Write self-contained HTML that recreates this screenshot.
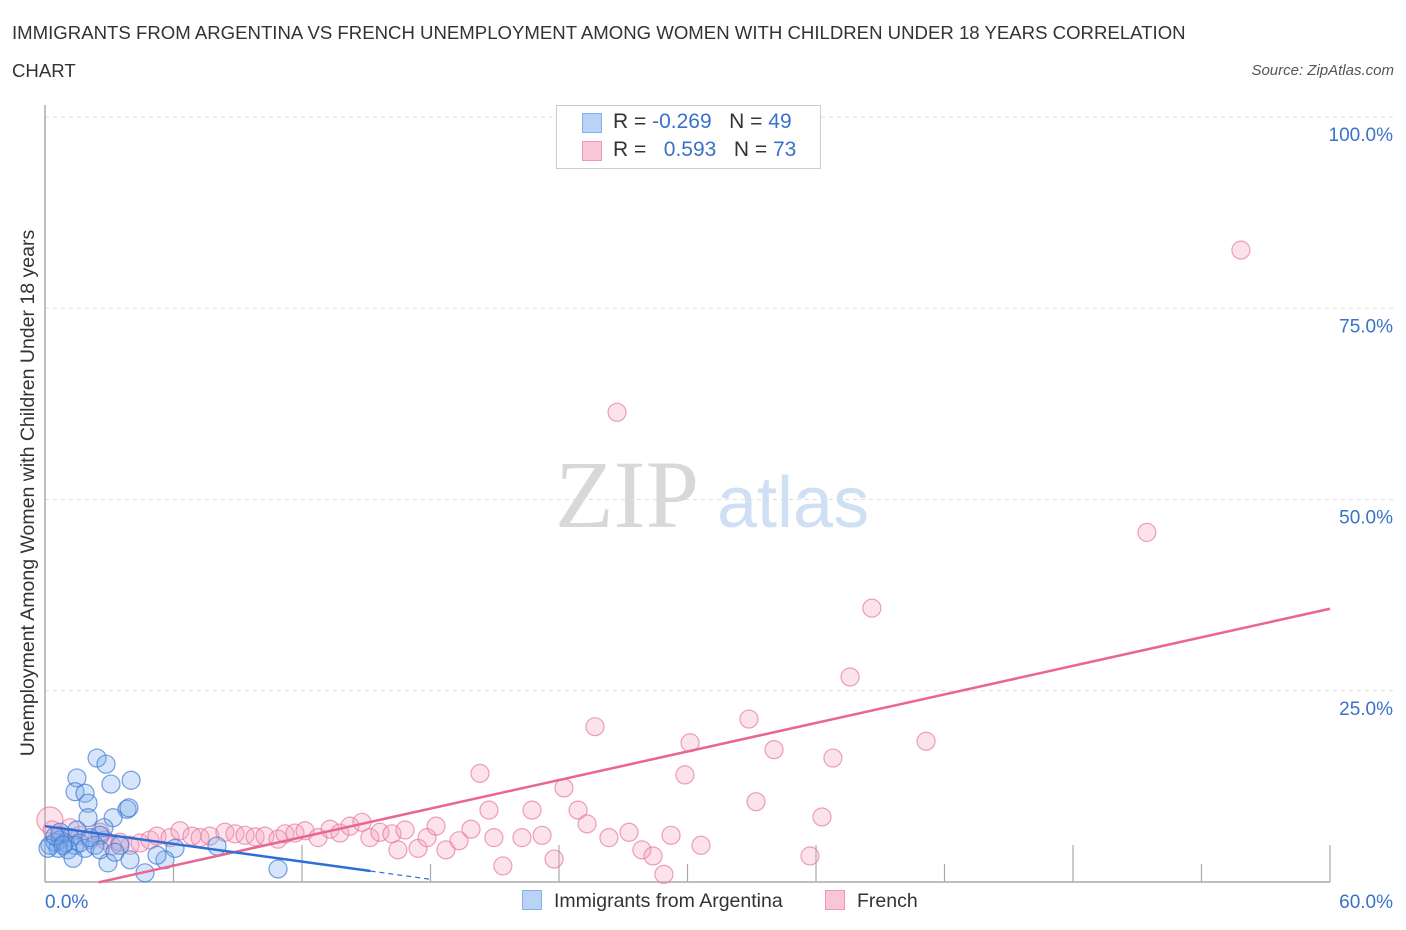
<!DOCTYPE html>
<html><head><meta charset="utf-8">
<style>
html,body{margin:0;padding:0;background:#fff;}
body{width:1406px;height:930px;position:relative;font-family:"Liberation Sans",sans-serif;overflow:hidden;}
.t{position:absolute;white-space:nowrap;}
</style></head>
<body>
<div class="t" style="left:12px;top:14px;font-size:18.6px;color:#333;line-height:38px;">IMMIGRANTS FROM ARGENTINA VS FRENCH UNEMPLOYMENT AMONG WOMEN WITH CHILDREN UNDER 18 YEARS CORRELATION<br>CHART</div>
<div class="t" style="right:12px;top:62px;font-size:15px;color:#555;font-style:italic;">Source: ZipAtlas.com</div>
<svg id="chart" width="1406" height="930" style="position:absolute;left:0;top:0">
<text x="555" y="527" font-family="Liberation Serif,serif" font-size="96" fill="#d8d8d8">ZIP</text>
<text x="717" y="527" font-family="Liberation Sans,sans-serif" font-size="72" fill="#cfe0f4">atlas</text>
<g id="grid"></g><g id="pts"></g><g id="lines"></g>
<text x="34" y="493" transform="rotate(-90 34 493)" text-anchor="middle" font-size="19.5" fill="#333">Unemployment Among Women with Children Under 18 years</text>
</svg>
<div class="t" style="left:556px;top:105px;width:263px;height:62px;border:1px solid #ccc;background:#fff;"></div>
<div class="t" style="left:582px;top:113px;width:20px;height:20px;background:#b8d3f5;border:1px solid #86b0e8;box-sizing:border-box;"></div>
<div class="t" style="left:582px;top:141px;width:20px;height:20px;background:#f9c6d6;border:1px solid #ee9ab5;box-sizing:border-box;"></div>
<div class="t" style="left:613px;top:110px;font-size:21px;color:#333;">R = <span style="color:#3a72c8">-0.269</span>&nbsp;&nbsp;&nbsp;N = <span style="color:#3a72c8">49</span></div>
<div class="t" style="left:613px;top:138px;font-size:21px;color:#333;">R = &nbsp;&nbsp;<span style="color:#3a72c8">0.593</span>&nbsp;&nbsp;&nbsp;N = <span style="color:#3a72c8">73</span></div>
<div class="t" style="left:522px;top:890px;font-size:19.5px;color:#333;"><span style="display:inline-block;width:20px;height:20px;background:#b8d3f5;border:1px solid #86b0e8;box-sizing:border-box;vertical-align:-3px;margin-right:12px;"></span>Immigrants from Argentina</div>
<div class="t" style="left:825px;top:890px;font-size:19.5px;color:#333;"><span style="display:inline-block;width:20px;height:20px;background:#f9c6d6;border:1px solid #ee9ab5;box-sizing:border-box;vertical-align:-3px;margin-right:12px;"></span>French</div>
<script>
const yTicks=[25,50,75,100];
const yTickLabels=["25.0%","50.0%","75.0%","100.0%"];
const xTickLabels=["0.0%","60.0%"];
const blueX=[2.43,2.85,1.49,3.08,4.02,1.40,1.87,2.01,3.83,3.92,3.18,2.01,1.49,2.75,0.23,0.47,0.70,0.93,1.17,0.61,0.14,1.40,1.63,1.07,1.87,2.57,2.33,3.50,3.97,1.31,2.57,6.07,4.67,5.60,5.23,2.94,8.03,10.88,0.70,0.47,2.10,3.27,0.84];
const blueY=[16.2,15.4,13.6,12.8,13.3,11.8,11.6,10.3,9.5,9.7,8.4,8.4,6.8,7.1,4.8,5.2,5.5,5.1,5.8,4.4,4.4,4.8,5.1,4.2,4.4,6.1,4.8,4.8,2.9,3.1,4.2,4.4,1.2,2.9,3.5,2.5,4.7,1.7,6.5,6.0,5.8,3.9,4.8];
const pinkX=[0.23,0.33,0.70,0.93,1.17,1.63,2.10,2.57,2.80,3.13,3.50,3.97,4.44,4.90,5.23,5.84,6.30,6.86,7.24,7.70,8.40,8.87,9.34,9.81,10.27,10.88,11.21,11.67,12.14,12.75,13.31,13.77,14.24,14.80,15.17,15.64,16.20,16.48,16.81,17.42,17.84,18.26,18.72,19.33,19.89,20.31,20.73,20.96,21.38,22.27,22.74,23.21,23.77,24.23,24.89,25.31,25.68,26.33,26.71,27.27,27.87,28.39,28.90,29.23,29.88,30.12,30.63,32.87,33.20,34.04,35.72,36.28,36.79,37.59,38.61,41.14,51.45,55.84];
const pinkY=[8.1,6.8,6.1,5.2,7.1,6.1,5.5,6.5,5.5,4.7,5.2,4.8,5.1,5.5,6.0,5.8,6.7,6.0,5.8,6.0,6.5,6.3,6.1,5.9,6.0,5.6,6.3,6.4,6.7,5.8,6.9,6.4,7.3,7.8,5.8,6.5,6.3,4.2,6.8,4.4,5.8,7.3,4.2,5.4,6.9,14.2,9.4,5.8,2.1,5.8,9.4,6.1,3.0,12.3,9.4,7.6,20.3,5.8,61.4,6.5,4.2,3.4,1.0,6.1,14.0,18.2,4.8,21.3,10.5,17.3,3.4,8.5,16.2,26.8,35.8,18.4,45.7,82.6];
const blueTrend=[7.3,-0.386];
const pinkTrend=[-1.6,0.622];
const X0=45,X1=1330,Y0=882,Y1=117;
const sx=v=>X0+(v/60)*(X1-X0);
const sy=v=>Y0-(v/100)*(Y0-Y1);
const NS="http://www.w3.org/2000/svg";
function mk(tag,attrs,parent){const e=document.createElementNS(NS,tag);for(const k in attrs)e.setAttribute(k,attrs[k]);parent.appendChild(e);return e;}
const grid=document.getElementById('grid');
yTicks.forEach((t,i)=>{
  const l=mk('line',{x1:X0,x2:1395,y1:sy(t),y2:sy(t),stroke:'#ddd','stroke-dasharray':'4,4'},grid);
  
  
  const tx=mk('text',{x:1393,y:sy(t)+24,'text-anchor':'end','font-size':19,fill:'#3a72c8'},grid);
  tx.textContent=yTickLabels[i];
  
  
});
const ax=mk('line',{x1:X0,x2:X0,y1:105,y2:Y0,stroke:'#aaa','stroke-width':1.5},grid);


const bx=mk('line',{x1:X0,x2:X1,y1:Y0,y2:Y0,stroke:'#aaa','stroke-width':1.5},grid);


for(let i=1;i<=10;i++){
  const tk=mk('line',{x1:sx(i*6),x2:sx(i*6),y1:i%2?864:845,y2:Y0,stroke:'#aaa','stroke-width':1.2},grid);
  
  
}
const xl0=mk('text',{x:X0,y:908,'font-size':19,fill:'#3a72c8'},grid);xl0.textContent=xTickLabels[0];


const xl1=mk('text',{x:1393,y:908,'text-anchor':'end','font-size':19,fill:'#3a72c8'},grid);xl1.textContent=xTickLabels[1];


const pts=document.getElementById('pts');
pinkX.forEach((x,i)=>{
  const c=mk('circle',{cx:sx(x),cy:sy(pinkY[i]),r:i==0?13:9,fill:'rgba(245,160,190,0.3)',stroke:'rgba(230,120,160,0.7)','stroke-width':1.2},pts);
  
  
});
blueX.forEach((x,i)=>{
  const c=mk('circle',{cx:sx(x),cy:sy(blueY[i]),r:9,fill:'rgba(120,170,235,0.3)',stroke:'rgba(60,120,210,0.7)','stroke-width':1.2},pts);
  
  
});
const lines=document.getElementById('lines');
const pl=mk('line',{x1:sx(2.5),y1:sy(pinkTrend[0]+pinkTrend[1]*2.5),x2:sx(60),y2:sy(pinkTrend[0]+pinkTrend[1]*60),stroke:'#e8668f','stroke-width':2.5},lines);


const bl=mk('line',{x1:sx(0),y1:sy(blueTrend[0]),x2:sx(15.2),y2:sy(blueTrend[0]+blueTrend[1]*15.2),stroke:'#2d6fd6','stroke-width':2.5},lines);


const bd=mk('line',{x1:sx(15.2),y1:sy(blueTrend[0]+blueTrend[1]*15.2),x2:sx(18),y2:sy(blueTrend[0]+blueTrend[1]*18),stroke:'#2d6fd6','stroke-width':1.2,'stroke-dasharray':'5,4'},lines);


</script>
</body></html>
